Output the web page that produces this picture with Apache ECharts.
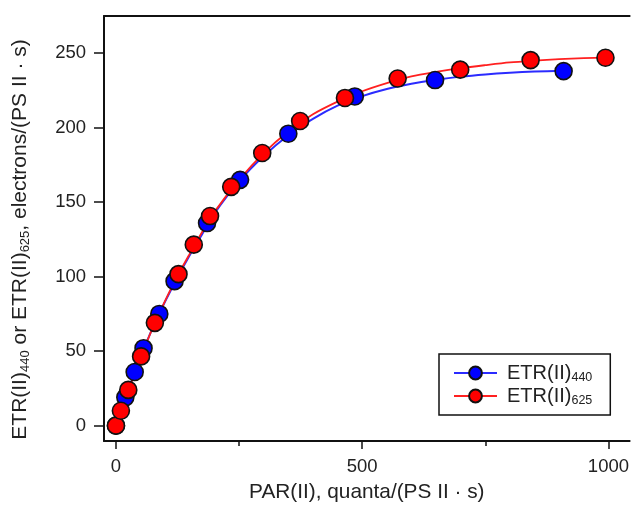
<!DOCTYPE html>
<html>
<head>
<meta charset="utf-8">
<script src="https://cdn.jsdelivr.net/npm/echarts@6/dist/echarts.min.js"></script>
<style>
html,body{margin:0;padding:0;background:#fff;}
#c{width:632px;height:509px;}
</style>
</head>
<body>
<div id="c"></div>
<script>
// Measured points (PAR(II), ETR(II))
const etr440Points = [[0,0],[19,19],[38,36],[56,52],[88,75],[119,97],[185,136],[252,165],[350,196],[485,221],[648,232],[909,238]];
const etr625Points = [[0,0],[10,10],[25,24],[51,46.5],[79,69],[127,101.7],[158,121.5],[191,140.7],[234,160.3],[297,183],[374,204.5],[465,220],[572,233],[699,239],[842,245.4],[994,247]];
// Fitted curves
const etr440Fit = [[0,0],[25,24],[50,46],[75,66],[100,83.5],[125,99.5],[150,114.5],[175,128.5],[200,142.5],[250,164],[300,181],[350,195],[400,206],[450,214.8],[500,221.2],[550,226],[600,229.5],[650,232.2],[700,234.3],[750,235.8],[800,236.9],[850,237.7],[909,238.3]];
const etr625Fit = [[0,0],[25,23.5],[50,45.5],[75,66],[100,84],[125,100.5],[150,115.5],[175,130],[200,143.5],[250,165],[300,183],[350,197.5],[400,209],[450,217.5],[500,224.5],[550,230],[600,234.5],[650,237.5],[700,240],[750,242],[800,243.8],[850,245],[900,246],[950,246.7],[1000,247.2]];
const xMajorTicks = [0,500,1000];
const xMinorTicks = [250,750];
const yTicks = [0,50,100,150,200,250];
const seriesNames = ['ETR(II)440','ETR(II)625'];

const chart = echarts.init(document.getElementById('c'), null, {renderer:'canvas'});
const FONT = 'Liberation Sans, Arial, sans-serif';
const TXT = '#222';
const rich = {
  m:{fontFamily:FONT,fontSize:20,color:TXT,lineHeight:22,verticalAlign:'middle'},
  s:{fontFamily:FONT,fontSize:12.5,color:TXT,lineHeight:13,verticalAlign:'bottom'}
};
const richY = {
  m:{fontFamily:FONT,fontSize:21,color:TXT,lineHeight:23,verticalAlign:'middle'},
  s:{fontFamily:FONT,fontSize:13,color:TXT,lineHeight:13,verticalAlign:'bottom'}
};
const xMin=-24.3, xMax=1043, yMin=-10.3, yMax=275;
const baseX = {type:'value',min:xMin,max:xMax,splitLine:{show:false},gridIndex:0};
option = {
  animation:false,
  backgroundColor:'#fff',
  grid:{left:104,top:16,right:0,bottom:68,containLabel:false},
  legend:{
    data:seriesNames,
    orient:'vertical',
    left:439, top:354,
    padding:[9,18,8,14],
    itemGap:2,
    itemWidth:43, itemHeight:16,
    backgroundColor:'#fff',
    borderColor:'#111', borderWidth:1.5, borderRadius:0,
    textStyle:{rich:rich, padding:[0,0,0,5]},
    formatter:function(n){ return n==='ETR(II)440' ? '{m|ETR(II)}{s|440}' : '{m|ETR(II)}{s|625}'; }
  },
  xAxis:[
    Object.assign({},baseX,{
      position:'bottom',
      axisLine:{show:true,onZero:false,lineStyle:{color:'#111',width:2}},
      axisTick:{show:true,length:8,lineStyle:{color:'#111',width:1.5},customValues:xMajorTicks},
      axisLabel:{show:true,margin:16,fontFamily:FONT,fontSize:18.5,color:TXT,customValues:xMajorTicks,
        formatter:function(v){return String(v);}},
      name:'PAR(II), quanta/(PS II · s)',
      nameLocation:'middle', nameGap:41,
      nameTextStyle:{fontFamily:FONT,fontSize:20.8,color:TXT}
    }),
    Object.assign({},baseX,{
      position:'bottom', offset:0,
      axisLine:{show:false,onZero:false},
      axisTick:{show:true,length:5,lineStyle:{color:'#111',width:1.5},customValues:xMinorTicks},
      axisLabel:{show:false}
    }),
    Object.assign({},baseX,{
      position:'top', offset:0,
      axisLine:{show:true,onZero:false,lineStyle:{color:'#111',width:2}},
      axisTick:{show:false},
      axisLabel:{show:false}
    })
  ],
  yAxis:[{
    type:'value',min:yMin,max:yMax,position:'left',
    splitLine:{show:false},
    axisLine:{show:true,onZero:false,lineStyle:{color:'#111',width:2}},
    axisTick:{show:true,length:10,lineStyle:{color:'#111',width:1.5},customValues:yTicks},
    axisLabel:{show:true,margin:18,fontFamily:FONT,fontSize:18.5,color:TXT,customValues:yTicks,
      formatter:function(v){return String(v);}},
    name:'{m|ETR(II)}{s|440}{m| or ETR(II)}{s|625}{m|, electrons/(PS II · s)}',
    nameLocation:'middle', nameGap:72, nameRotate:90,
    nameTextStyle:{rich:richY, padding:[0,22,0,0]}
  }],
  series:[
    {name:'ETR(II)440',type:'line',data:etr440Fit,smooth:0.3,showSymbol:false,
     symbol:'circle',symbolSize:15,
     itemStyle:{color:'#0000ff',borderColor:'#111',borderWidth:1.5},
     lineStyle:{color:'#2b2bff',width:2},z:2,xAxisIndex:0},
    {name:'ETR(II)625',type:'line',data:etr625Fit,smooth:0.3,showSymbol:false,
     symbol:'circle',symbolSize:15,
     itemStyle:{color:'#ff0000',borderColor:'#111',borderWidth:1.5},
     lineStyle:{color:'#ff2020',width:1.8},z:3,xAxisIndex:0},
    {name:'pts440',type:'scatter',data:etr440Points,symbol:'circle',symbolSize:17,
     itemStyle:{color:'#0000ff',borderColor:'#111',borderWidth:1.6,opacity:1},z:4,xAxisIndex:0},
    {name:'pts625',type:'scatter',data:etr625Points,symbol:'circle',symbolSize:17,
     itemStyle:{color:'#ff0000',borderColor:'#111',borderWidth:1.6,opacity:1},z:5,xAxisIndex:0}
  ]
};
chart.setOption(option);
</script>
</body>
</html>
